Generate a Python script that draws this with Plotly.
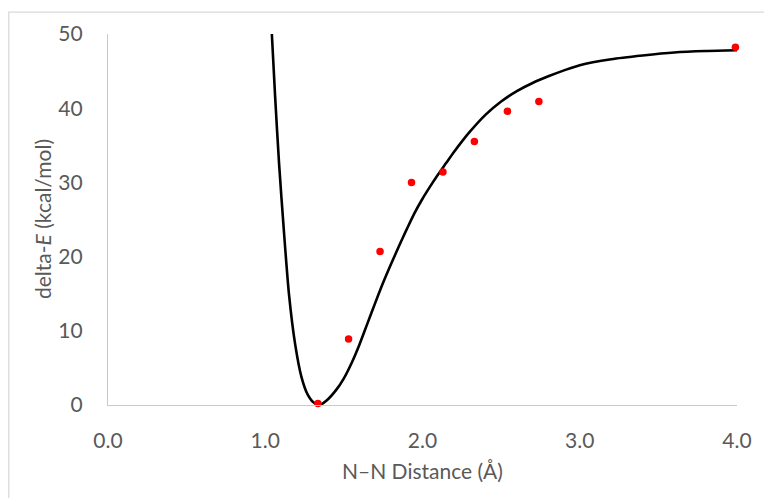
import plotly.graph_objects as go

# Fitted potential curve
curve_x = [1.042, 1.063, 1.088, 1.118, 1.151, 1.19, 1.23, 1.27, 1.31, 1.35,
           1.39, 1.45, 1.50, 1.55, 1.60, 1.65, 1.70, 1.75, 1.80, 1.85, 1.90, 1.95,
           2.00, 2.05, 2.10, 2.15, 2.20, 2.25, 2.30, 2.40, 2.50, 2.60, 2.70, 2.80,
           2.90, 3.00, 3.20, 3.40, 3.60, 3.80, 4.00]
curve_y = [50, 41.5, 32.5, 23.6, 14.9, 8.2, 3.8, 1.4, 0.3, 0.05,
           0.6, 2.0, 3.6, 5.7, 8.2, 11.0, 13.8, 16.5, 19.0, 21.4, 23.7, 25.9,
           27.8, 29.5, 31.1, 32.6, 34.1, 35.5, 36.8, 39.1, 40.9, 42.3, 43.4, 44.3,
           45.1, 45.8, 46.6, 47.1, 47.5, 47.7, 47.8]

# Computed points
pts_x = [1.335, 1.53, 1.73, 1.93, 2.13, 2.33, 2.54, 2.74, 3.99]
pts_y = [0.2, 8.9, 20.7, 30.0, 31.4, 35.5, 39.6, 40.9, 48.2]

x_ticks = [0, 1, 2, 3, 4]
x_tick_labels = ["0.0", "1.0", "2.0", "3.0", "4.0"]
y_ticks = [0, 10, 20, 30, 40, 50]

FONT = "Lato"
TXT = "#595959"
FS = 21

fig = go.Figure()
fig.add_trace(go.Scatter(x=curve_x, y=curve_y, mode="lines",
                         line=dict(color="black", width=2.6, shape="spline", smoothing=0.7),
                         hoverinfo="skip", showlegend=False))
fig.add_trace(go.Scatter(x=pts_x, y=pts_y, mode="markers", marker=dict(color="#ff0000", size=7.5),
                         showlegend=False, cliponaxis=False))

fig.update_layout(
    width=764, height=498,
    margin=dict(l=107.5, r=22.5, t=33.5, b=93),
    paper_bgcolor="white", plot_bgcolor="white",
    font=dict(family=FONT, size=FS, color=TXT),
    xaxis=dict(range=[0, 4], tickvals=x_ticks, ticktext=x_tick_labels, showgrid=False, zeroline=False,
               showline=True, linecolor="#c9c9c9", linewidth=1.3, ticks="", ticklabelstandoff=17,
               tickfont=dict(family=FONT, size=FS, color=TXT)),
    yaxis=dict(range=[0, 50], tickvals=y_ticks, showgrid=False, zeroline=False,
               showline=True, linecolor="#c9c9c9", linewidth=1.3, ticks="", ticklabelstandoff=20,
               tickfont=dict(family=FONT, size=FS, color=TXT)),
    annotations=[
        dict(text="N–N Distance (Å)", xref="paper", yref="paper", x=0.5, y=0, xanchor="center", yanchor="middle",
             yshift=-65, showarrow=False, font=dict(family=FONT, size=FS, color=TXT)),
        dict(text="delta-<i>E</i> (kcal/mol)", xref="paper", yref="paper", x=0, y=0.5, xanchor="center",
             yanchor="middle", xshift=-65.5, textangle=-90, showarrow=False,
             font=dict(family=FONT, size=FS, color=TXT)),
    ],
    shapes=[dict(type="rect", xref="paper", yref="paper", x0=-0.1577, x1=1.2, y0=-0.5, y1=1.059,
                 line=dict(color="#d9d9d9", width=1.3), layer="below")],
)

fig.write_html("out.html")
